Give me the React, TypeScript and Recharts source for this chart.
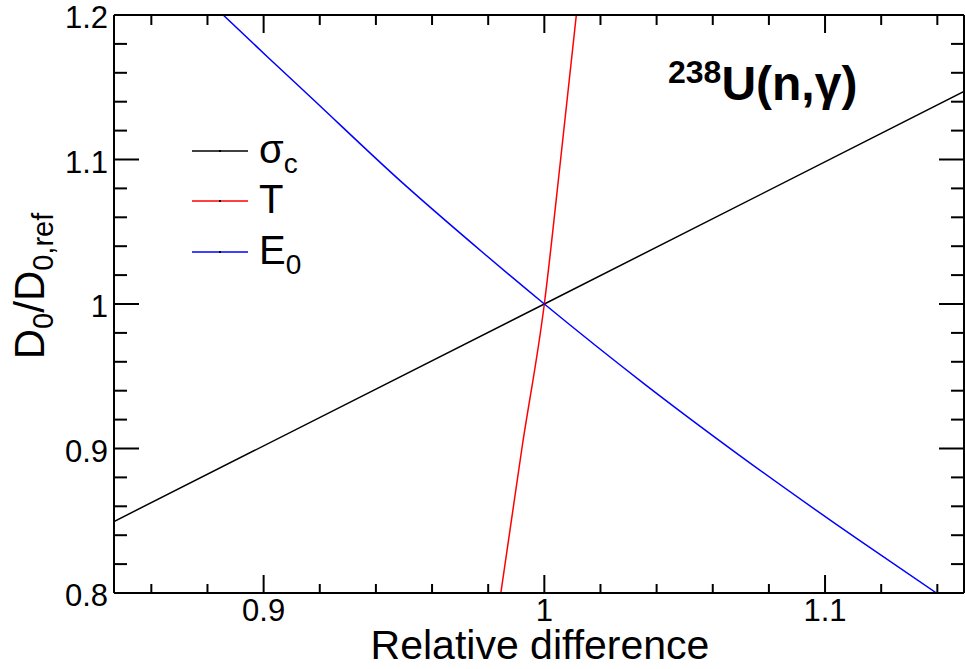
import { LineChart, Line, XAxis, YAxis } from 'recharts';

// values
const sigmaX = [0.8467, 1.0, 1.1495];
const sigmaY = [0.8495, 1.0, 1.1471];

const tempX = [0.9845, 0.992, 1.0, 1.0058, 1.0114];
const tempY = [0.8, 0.9, 1.0, 1.1, 1.2];

const e0X = [0.8856, 0.9016, 0.9147, 0.9503, 0.9787, 1.0, 1.0357, 1.07, 1.112, 1.1397];
const e0Y = [1.2, 1.1706, 1.1469, 1.0824, 1.0346, 1.0, 0.9446, 0.8946, 0.8367, 0.8];

const xTicks = [0.86, 0.88, 0.9, 0.92, 0.94, 0.96, 0.98, 1.0, 1.02, 1.04, 1.06, 1.08, 1.1, 1.12, 1.14];
const yTicks = [0.8, 0.82, 0.84, 0.86, 0.88, 0.9, 0.92, 0.94, 0.96, 0.98, 1.0, 1.02, 1.04, 1.06, 1.08, 1.1, 1.12, 1.14, 1.16, 1.18, 1.2];

const xDomain: [number, number] = [0.8467, 1.1495];
const yDomain: [number, number] = [0.8, 1.2];

const zip = (xs: number[], ys: number[]) => xs.map((x, i) => ({ x, y: ys[i] }));

const isMajor = (v: number) => Math.abs(v * 10 - Math.round(v * 10)) < 1e-6;
const fmt = (v: number) => String(Math.round(v * 10) / 10);

const FONT = '"Liberation Sans", Arial, Helvetica, sans-serif';

const BottomTick = (props: any) => {
  const { x, y, payload } = props;
  const major = isMajor(payload.value);
  return (
    <g>
      <line x1={x} x2={x} y1={y} y2={y - (major ? 18 : 9)} stroke="#000" strokeWidth={2} />
      {major && (
        <text x={x} y={y + 28} textAnchor="middle" fontSize={31} fontFamily={FONT} fill="#000">
          {fmt(payload.value)}
        </text>
      )}
    </g>
  );
};

const TopTick = (props: any) => {
  const { x, y, payload } = props;
  const major = isMajor(payload.value);
  return <line x1={x} x2={x} y1={y} y2={y + (major ? 18 : 10)} stroke="#000" strokeWidth={2} />;
};

const LeftTick = (props: any) => {
  const { x, y, payload } = props;
  const major = isMajor(payload.value);
  return (
    <g>
      <line x1={x} x2={x + (major ? 25 : 13)} y1={y} y2={y} stroke="#000" strokeWidth={2} />
      {major && (
        <text x={x - 6} y={y + 13} textAnchor="end" fontSize={31} fontFamily={FONT} fill="#000">
          {fmt(payload.value)}
        </text>
      )}
    </g>
  );
};

const RightTick = (props: any) => {
  const { x, y, payload } = props;
  const major = isMajor(payload.value);
  return <line x1={x} x2={x - (major ? 25 : 13)} y1={y} y2={y} stroke="#000" strokeWidth={2} />;
};

const legendItems = [
  { color: '#000000', y: 151, main: 'σ', sub: 'c' },
  { color: '#ff0000', y: 201, main: 'T', sub: '' },
  { color: '#0000ff', y: 252, main: 'E', sub: '0' },
];

export default function App() {
  return (
    <div style={{ position: 'absolute', left: 0, top: 0, width: 965, height: 669, background: '#fff', fontFamily: FONT }}>
      <LineChart width={965} height={669} margin={{ top: 0, right: 0, bottom: 0, left: 0 }}>
        <XAxis
          xAxisId="bottom"
          type="number"
          dataKey="x"
          domain={xDomain}
          allowDataOverflow
          ticks={xTicks}
          interval={0}
          height={76}
          tickSize={0}
          tickMargin={0}
          tickLine={false}
          axisLine={{ stroke: '#000', strokeWidth: 2 }}
          tick={<BottomTick />}
        />
        <XAxis
          xAxisId="top"
          orientation="top"
          type="number"
          dataKey="x"
          domain={xDomain}
          allowDataOverflow
          ticks={xTicks}
          interval={0}
          height={15}
          tickSize={0}
          tickMargin={0}
          tickLine={false}
          axisLine={{ stroke: '#000', strokeWidth: 2 }}
          tick={<TopTick />}
        />
        <YAxis
          yAxisId="left"
          type="number"
          domain={yDomain}
          allowDataOverflow
          ticks={yTicks}
          interval={0}
          width={114}
          tickSize={0}
          tickMargin={0}
          tickLine={false}
          axisLine={{ stroke: '#000', strokeWidth: 2 }}
          tick={<LeftTick />}
        />
        <YAxis
          yAxisId="right"
          orientation="right"
          type="number"
          domain={yDomain}
          allowDataOverflow
          ticks={yTicks}
          interval={0}
          width={1}
          tickSize={0}
          tickMargin={0}
          tickLine={false}
          axisLine={{ stroke: '#000', strokeWidth: 2 }}
          tick={<RightTick />}
        />
        <Line xAxisId="bottom" yAxisId="left" data={zip(sigmaX, sigmaY)} dataKey="y" type="linear" stroke="#000000" strokeWidth={1.5} dot={false} isAnimationActive={false} />
        <Line xAxisId="bottom" yAxisId="left" data={zip(tempX, tempY)} dataKey="y" type="monotone" stroke="#ff0000" strokeWidth={1.5} dot={false} isAnimationActive={false} />
        <Line xAxisId="bottom" yAxisId="left" data={zip(e0X, e0Y)} dataKey="y" type="monotone" stroke="#0000ff" strokeWidth={1.5} dot={false} isAnimationActive={false} />
      </LineChart>

      {/* titles and legend */}
      <svg width={965} height={669} style={{ position: 'absolute', left: 0, top: 0, pointerEvents: 'none' }}>
        <text x={540} y={659} textAnchor="middle" fontSize={41} fontFamily={FONT} fill="#000">
          Relative difference
        </text>
        <text transform="rotate(-90)" x={-286} y={44} textAnchor="middle" fontSize={42} fontFamily={FONT} fill="#000">
          D<tspan fontSize={29} dy={9}>0</tspan>
          <tspan dy={-9}>/D</tspan>
          <tspan fontSize={29} dy={9}>0,ref</tspan>
        </text>
        <text x={668} y={100} fontFamily={FONT} fontWeight="bold" fill="#000">
          <tspan fontSize={32} dy={-17}>238</tspan>
          <tspan fontSize={48} dy={17}>U(n,γ)</tspan>
        </text>
        {legendItems.map((it) => (
          <g key={it.main}>
            <line x1={192} x2={248} y1={it.y} y2={it.y} stroke={it.color} strokeWidth={1.5} />
            <rect x={219} y={it.y - 1} width={2} height={2} fill="#000" />
            <text x={259} y={it.y + 12} fontSize={40} fontFamily={FONT} fill="#000">
              {it.main}
              {it.sub && (
                <tspan fontSize={28} dy={10}>
                  {it.sub}
                </tspan>
              )}
            </text>
          </g>
        ))}
      </svg>
    </div>
  );
}
